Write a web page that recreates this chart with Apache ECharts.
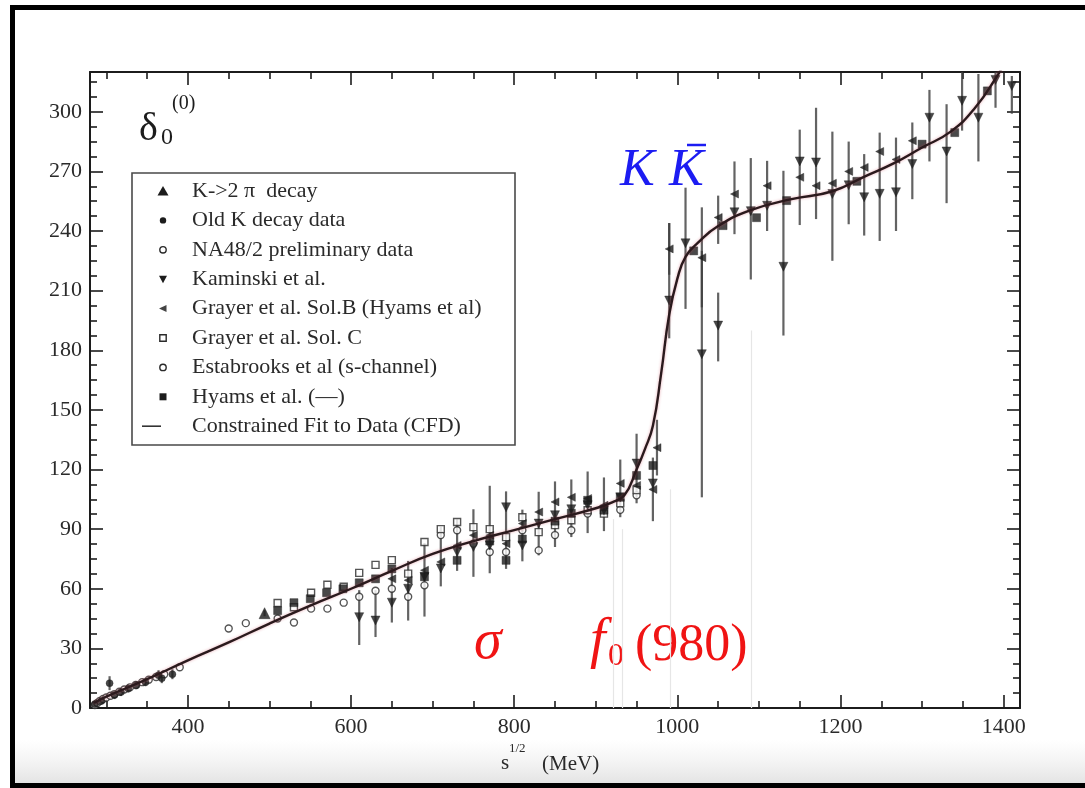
<!DOCTYPE html>
<html>
<head>
<meta charset="utf-8">
<script src="https://cdn.jsdelivr.net/npm/echarts@6/dist/echarts.min.js"></script>
<style>
  html, body { margin: 0; padding: 0; background: #fff; }
  #chart { width: 1085px; height: 788px; }
</style>
</head>
<body>
<div id="chart"></div>
<script>
// ---- axis ticks (MeV on x, degrees on y) ----
const xMajor = [400, 600, 800, 1000, 1200, 1400];
const xMinor = [300, 350, 450, 500, 550, 650, 700, 750, 850, 900, 950, 1050, 1100, 1150, 1250, 1300, 1350];
const yMajor = [0, 30, 60, 90, 120, 150, 180, 210, 240, 270, 300];
const yMinor = [7.5, 15, 22.5, 37.5, 45, 52.5, 67.5, 75, 82.5, 97.5, 105, 112.5, 127.5, 135, 142.5,
  157.5, 165, 172.5, 187.5, 195, 202.5, 217.5, 225, 232.5, 247.5, 255, 262.5, 277.5, 285, 292.5, 307.5, 315];

// ---- data sets: [sqrt(s) MeV, delta deg, error below, error above] ----
const k2pi = [[494, 47.7, 1.5, 1.5]];

const oldK = [[286, 2, 1, 1], [294, 3.5, 1.5, 1.5], [304, 12.5, 3.5, 3.5], [310, 6.5, 2, 2], [318, 8, 2, 2],
  [327, 9.8, 2, 2], [337, 11.5, 2, 2], [348, 13, 2, 2], [364, 16.5, 2.5, 2.5], [368, 15, 2.5, 2.5], [381, 17, 2.5, 2.5]];

const na48 = [[286, 1.5, 0, 0], [289, 2.5, 0, 0], [292, 3.5, 0, 0], [296, 4.5, 0, 0], [300, 5.3, 0, 0],
  [305, 6.2, 0, 0], [310, 7, 0, 0], [316, 8.2, 0, 0], [322, 9.3, 0, 0], [329, 10.4, 0, 0], [336, 11.6, 0, 0],
  [344, 13, 0, 0], [352, 14.2, 0, 0], [361, 15.6, 0, 0], [371, 17, 0, 0], [390, 20.5, 0, 0]];

const kaminski = [[610, 45.7, 14, 13.6], [630, 44, 8.3, 15.3], [650, 53, 10, 17.4], [670, 60, 16, 14],
  [690, 66, 20, 17], [710, 70.2, 9, 21], [730, 78.5, 9.5, 16.5], [750, 81, 15, 19], [770, 81.8, 14, 30],
  [790, 101, 31, 8], [810, 81.8, 8, 18], [830, 92.8, 16, 16], [850, 97, 16, 17], [870, 100, 14, 15],
  [890, 102, 14, 17], [910, 99.5, 10.5, 16.5], [930, 106, 10, 19], [950, 123, 20, 15], [970, 113, 19, 13],
  [990, 205, 19, 39], [1010, 233.8, 33, 28], [1030, 178, 72, 52], [1050, 192.4, 18, 16.6],
  [1070, 249.4, 11, 25.6], [1090, 250, 34.4, 26.7], [1110, 252.7, 12.7, 22.6], [1130, 222, 34.6, 48.3],
  [1150, 275, 32, 16], [1170, 274.5, 28.5, 27.5], [1190, 258.6, 33.6, 31.4], [1210, 263, 19.6, 22],
  [1229, 257, 19.3, 21.7], [1248, 258.7, 23.7, 30.8], [1268, 259.5, 19.5, 27.5], [1288, 273.7, 17.7, 20.9],
  [1309, 297, 22, 14], [1330, 280, 26, 23.8], [1349, 305.5, 15, 16], [1369, 297, 22, 22],
  [1390, 316, 14, 10], [1410, 313, 14, 5]];

const grayerB = [[650, 65, 0, 0], [670, 64.3, 0, 0], [690, 69.3, 0, 0], [710, 73.5, 0, 0], [730, 81.8, 0, 0],
  [750, 86.9, 0, 0], [770, 86.9, 0, 0], [790, 82.7, 0, 0], [810, 92.8, 0, 0], [830, 98.6, 0, 0],
  [850, 103.7, 0, 0], [870, 106, 0, 0], [890, 105.4, 0, 0], [910, 102, 0, 0], [930, 113, 0, 0],
  [950, 112, 0, 0], [970, 110, 0, 0], [975, 131, 14, 14], [990, 231, 13, 13], [1030, 226.6, 25, 25.3],
  [1050, 246.8, 13.3, 11], [1070, 258.6, 0, 0], [1110, 262.8, 0, 0], [1150, 267, 0, 0], [1170, 262.8, 0, 0],
  [1190, 264, 0, 0], [1210, 270, 0, 0], [1229, 272, 0, 0], [1248, 280, 0, 0], [1268, 276, 0, 0],
  [1288, 285.4, 0, 0]];

const grayerC = [[510, 52.8, 0, 0], [530, 50.7, 0, 0], [551, 58, 0, 0], [571, 62, 0, 0], [591, 61, 0, 0],
  [610, 68, 0, 0], [630, 72, 0, 0], [650, 74.4, 0, 0], [670, 67.6, 0, 0], [690, 83.5, 0, 0], [710, 90, 0, 0],
  [730, 93.6, 0, 0], [750, 91, 0, 0], [770, 90, 0, 0], [790, 86, 0, 0], [810, 96, 0, 0], [830, 88.5, 0, 0],
  [850, 92, 0, 0], [870, 94.5, 0, 0], [890, 99.5, 0, 0], [910, 97.8, 0, 0], [930, 103, 0, 0], [950, 109.6, 0, 0]];

const estabrooks = [[450, 40, 0, 0], [471, 42.7, 0, 0], [510, 45, 0, 0], [530, 43, 0, 0], [551, 50, 0, 0],
  [571, 50, 0, 0], [591, 53, 0, 0], [610, 56, 0, 0], [630, 59, 0, 0], [650, 60, 0, 0], [670, 56, 0, 0],
  [690, 61.7, 0, 0], [710, 87, 0, 0], [730, 89.4, 0, 0], [750, 82.7, 0, 0], [770, 78.5, 0, 0],
  [790, 78.5, 0, 0], [810, 89.4, 0, 0], [830, 79.3, 0, 0], [850, 87, 0, 0], [870, 89.4, 0, 0],
  [890, 97.8, 0, 0], [930, 99.7, 0, 0], [950, 107, 0, 0]];

const hyams = [[510, 49, 0, 0], [530, 53, 0, 0], [550, 55, 0, 0], [570, 58, 0, 0], [590, 60, 0, 0],
  [610, 63, 0, 0], [630, 65, 0, 0], [650, 70, 0, 0], [690, 66, 0, 0], [730, 74.3, 0, 0], [770, 84, 0, 0],
  [790, 74.3, 0, 0], [810, 85, 0, 0], [850, 94, 0, 0], [870, 98, 0, 0], [890, 104.5, 0, 0], [910, 99.5, 0, 0],
  [930, 106, 0, 0], [950, 117, 0, 0], [970, 122, 0, 0], [1020, 230, 0, 0], [1056, 242.7, 0, 0],
  [1097, 246.7, 0, 0], [1134, 255.3, 0, 0], [1220, 265, 0, 0], [1300, 283.7, 0, 0], [1340, 289.5, 0, 0],
  [1380, 310.5, 0, 0]];

// constrained fit curve
const fitX = [285, 300, 350, 400, 450, 500, 550, 600, 650, 700, 750, 800, 850, 900, 920, 935, 950, 960, 970,
  980, 990, 1000, 1010, 1025, 1050, 1090, 1140, 1190, 1230, 1265, 1300, 1335, 1365, 1392, 1400];
const fitY = [2.5, 5.7, 14.5, 24, 33, 42.5, 51.5, 60, 69, 77.5, 84, 89.5, 95, 100.5, 103.5, 107, 120, 130, 142,
  168, 198, 216, 227, 234, 242.5, 250.5, 256, 260, 267.5, 274, 282, 290, 302, 318, 324];

// legend entries, top to bottom
const legendRows = [
  { text: 'K->2 π  decay', mark: 'triUp' },
  { text: 'Old K decay data', mark: 'dot' },
  { text: 'NA48/2 preliminary data', mark: 'ring' },
  { text: 'Kaminski et al.', mark: 'triDown' },
  { text: 'Grayer et al. Sol.B (Hyams et al)', mark: 'triLeft' },
  { text: 'Grayer et al. Sol. C', mark: 'box' },
  { text: 'Estabrooks et al (s-channel)', mark: 'ring' },
  { text: 'Hyams et al. (—)', mark: 'square' },
  { text: 'Constrained Fit to Data (CFD)', mark: 'line' }
];

// ---- styling helpers ----
const SERIF = '"Liberation Serif", "Times New Roman", serif';
const INK = '#1c1c1c';
const GREY = '#2a2a2a';

function tickAxis(dim, position, ticks, len, withLine, labels) {
  const isX = dim === 'x';
  return {
    type: 'value',
    position: position,
    min: isX ? 280 : 0,
    max: isX ? 1420 : 320,
    axisLine: { show: withLine, onZero: false, lineStyle: { color: INK, width: 2 } },
    axisTick: { show: true, inside: true, length: len, customValues: ticks, lineStyle: { color: INK, width: 1.6 } },
    axisLabel: labels ? {
      show: true, customValues: ticks, fontFamily: SERIF, fontSize: 22, color: GREY, margin: 8,
      formatter: v => String(v)
    } : { show: false },
    splitLine: { show: false },
    minorTick: { show: false }
  };
}

function errorBars(data) {
  return {
    type: 'custom',
    xAxisIndex: 0, yAxisIndex: 0,
    silent: true, clip: true, z: 1,
    data: data.filter(d => d[2] > 0 || d[3] > 0),
    encode: { x: 0, y: 1 },
    renderItem: function (params, api) {
      const x = api.value(0), y = api.value(1);
      const a = api.coord([x, y - api.value(2)]);
      const b = api.coord([x, y + api.value(3)]);
      return {
        type: 'line',
        shape: { x1: a[0], y1: a[1], x2: b[0], y2: b[1] },
        style: { stroke: 'rgba(60,60,60,0.8)', lineWidth: 2.2 }
      };
    }
  };
}

function points(name, data, symbol, size, filled, rotate) {
  return {
    name: name,
    type: 'scatter',
    xAxisIndex: 0, yAxisIndex: 0,
    z: 3,
    symbol: symbol,
    symbolSize: size,
    symbolRotate: rotate || 0,
    data: data.map(d => [d[0], d[1]]),
    itemStyle: filled
      ? { color: INK, borderColor: INK, borderWidth: 0.5 }
      : { color: '#ffffff', borderColor: GREY, borderWidth: 1.4 }
  };
}

// small legend glyph drawn at (cx, cy)
function legendMark(kind, cx, cy) {
  const fill = { fill: INK };
  const open = { fill: '#ffffff', stroke: GREY, lineWidth: 1.4 };
  switch (kind) {
    case 'triUp': return { type: 'polygon', shape: { points: [[cx, cy - 5], [cx - 5.5, cy + 4.5], [cx + 5.5, cy + 4.5]] }, style: fill };
    case 'triDown': return { type: 'polygon', shape: { points: [[cx, cy + 4], [cx - 4, cy - 3.5], [cx + 4, cy - 3.5]] }, style: fill };
    case 'triLeft': return { type: 'polygon', shape: { points: [[cx - 4, cy], [cx + 3.5, cy - 3.5], [cx + 3.5, cy + 3.5]] }, style: { fill: '#444' } };
    case 'dot': return { type: 'circle', shape: { cx: cx, cy: cy, r: 3.2 }, style: fill };
    case 'ring': return { type: 'circle', shape: { cx: cx, cy: cy, r: 3.2 }, style: open };
    case 'box': return { type: 'rect', shape: { x: cx - 3.2, y: cy - 3.2, width: 6.4, height: 6.4 }, style: open };
    case 'square': return { type: 'rect', shape: { x: cx - 3.5, y: cy - 3.5, width: 7, height: 7 }, style: fill };
    default: return { type: 'line', shape: { x1: cx - 21, y1: cy, x2: cx - 2, y2: cy }, style: { stroke: '#333', lineWidth: 1.6 } };
  }
}

const legendGraphics = [
  { type: 'rect', silent: true, z: 50, shape: { x: 132, y: 173, width: 383, height: 272 },
    style: { fill: '#ffffff', stroke: '#4a4a4a', lineWidth: 1.6 } }
];
legendRows.forEach((row, i) => {
  const cy = 191 + i * 29.4;
  const m = legendMark(row.mark, 163, cy);
  m.silent = true; m.z = 51;
  legendGraphics.push(m);
  legendGraphics.push({
    type: 'text', silent: true, z: 51,
    style: { text: row.text, x: 192, y: cy, fontSize: 22, fontFamily: SERIF, fill: GREY, verticalAlign: 'middle' }
  });
});

const chart = echarts.init(document.getElementById('chart'), null, { renderer: 'canvas' });

chart.setOption({
  animation: false,
  backgroundColor: '#ffffff',
  grid: { left: 90, right: 65, top: 72, bottom: 80, outerBoundsMode: 'none' },
  xAxis: [
    tickAxis('x', 'bottom', xMajor, 13, true, true),
    tickAxis('x', 'bottom', xMinor, 7, false, false),
    tickAxis('x', 'top', xMajor, 13, true, false),
    tickAxis('x', 'top', xMinor, 7, false, false)
  ],
  yAxis: [
    tickAxis('y', 'left', yMajor, 13, true, true),
    tickAxis('y', 'left', yMinor, 7, false, false),
    tickAxis('y', 'right', yMajor, 13, true, false),
    tickAxis('y', 'right', yMinor, 7, false, false)
  ],
  series: [
    errorBars(kaminski),
    errorBars(grayerB),
    errorBars(oldK),
    errorBars(k2pi),
    {
      name: 'Constrained Fit to Data (CFD)',
      type: 'line',
      xAxisIndex: 0, yAxisIndex: 0,
      z: 4,
      symbol: 'none',
      smooth: 0.5,
      clip: true,
      data: fitX.map((x, i) => [x, fitY[i]]),
      lineStyle: { color: '#2a1a1d', width: 2.4, shadowColor: 'rgba(200,60,80,0.45)', shadowBlur: 3 },
      markLine: {
        silent: true, symbol: 'none', label: { show: false },
        lineStyle: { color: '#e6e6e6', width: 1.2, type: 'solid' },
        data: [
          [{ coord: [921, 0] }, { coord: [921, 95] }],
          [{ coord: [932, 0] }, { coord: [932, 90] }],
          [{ coord: [991, 0] }, { coord: [991, 110] }],
          [{ coord: [1091, 0] }, { coord: [1091, 190] }]
        ]
      }
    },
    points('NA48/2 preliminary data', na48, 'circle', 7, false),
    points('Estabrooks et al (s-channel)', estabrooks, 'circle', 7, false),
    points('Grayer et al. Sol. C', grayerC, 'rect', 7, false),
    points('Old K decay data', oldK, 'circle', 7, true),
    points('Hyams et al. (—)', hyams, 'rect', 8, true),
    points('Grayer et al. Sol.B (Hyams et al)', grayerB, 'triangle', 8, true, 90),
    points('Kaminski et al.', kaminski, 'triangle', 9, true, 180),
    points('K->2 π  decay', k2pi, 'triangle', 11, true)
  ],
  graphic: [
    {
      type: 'rect', silent: true, z: -10,
      shape: { x: 15, y: 740, width: 1070, height: 43 },
      style: {
        fill: { type: 'linear', x: 0, y: 0, x2: 0, y2: 1,
          colorStops: [{ offset: 0, color: 'rgba(236,236,236,0)' }, { offset: 1, color: '#e4e4e4' }] }
      }
    },
    // panel label: delta_0^(0)
    { type: 'text', silent: true, style: { text: 'δ', x: 139, y: 129, fontSize: 40, fontFamily: SERIF, fill: INK, verticalAlign: 'middle' } },
    { type: 'text', silent: true, style: { text: '0', x: 161, y: 138, fontSize: 24, fontFamily: SERIF, fill: INK, verticalAlign: 'middle' } },
    { type: 'text', silent: true, style: { text: '(0)', x: 172, y: 104, fontSize: 20, fontFamily: SERIF, fill: INK, verticalAlign: 'middle' } },
    // resonance annotations
    { type: 'text', silent: true, style: { text: 'K', x: 620, y: 171, fontSize: 52, fontStyle: 'italic', fontFamily: SERIF, fill: '#1c1cf2', verticalAlign: 'middle' } },
    { type: 'text', silent: true, style: { text: 'K', x: 669, y: 171, fontSize: 52, fontStyle: 'italic', fontFamily: SERIF, fill: '#1c1cf2', verticalAlign: 'middle' } },
    { type: 'line', silent: true, shape: { x1: 687, y1: 145, x2: 706, y2: 145 }, style: { stroke: '#1c1cf2', lineWidth: 2.5 } },
    { type: 'text', silent: true, style: { text: 'σ', x: 474, y: 643, fontSize: 56, fontStyle: 'italic', fontFamily: SERIF, fill: '#f01414', verticalAlign: 'middle' } },
    { type: 'text', silent: true, style: { text: 'f', x: 590, y: 642, fontSize: 56, fontStyle: 'italic', fontFamily: SERIF, fill: '#f01414', verticalAlign: 'middle' } },
    { type: 'text', silent: true, style: { text: '0', x: 608, y: 657, fontSize: 32, fontFamily: SERIF, fill: '#f01414', verticalAlign: 'middle' } },
    { type: 'text', silent: true, style: { text: '(980)', x: 635, y: 646, fontSize: 52, fontFamily: SERIF, fill: '#f01414', verticalAlign: 'middle' } },
    // x axis title: s^(1/2) (MeV)
    { type: 'text', silent: true, style: { text: 's', x: 501, y: 763, fontSize: 21, fontFamily: SERIF, fill: GREY, verticalAlign: 'middle' } },
    { type: 'text', silent: true, style: { text: '1/2', x: 509, y: 749, fontSize: 13, fontFamily: SERIF, fill: GREY, verticalAlign: 'middle' } },
    { type: 'text', silent: true, style: { text: '(MeV)', x: 542, y: 764, fontSize: 21, fontFamily: SERIF, fill: GREY, verticalAlign: 'middle' } },
    ...legendGraphics,
    // outer frame
    {
      type: 'rect', silent: true, z: 100,
      shape: { x: 12.5, y: 7.5, width: 1100, height: 778 },
      style: { fill: 'none', stroke: '#000000', lineWidth: 5 }
    }
  ]
});
</script>
</body>
</html>
